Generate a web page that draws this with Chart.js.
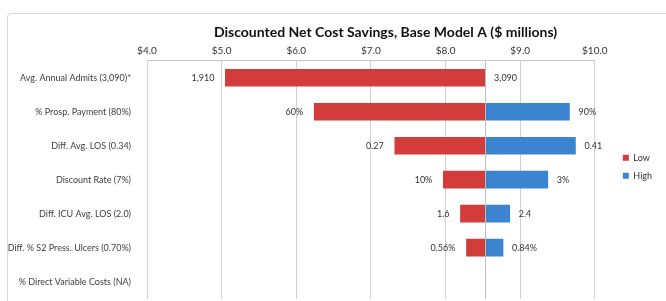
<!DOCTYPE html>
<html>
<head>
<meta charset="utf-8">
<script src="https://cdn.jsdelivr.net/npm/chart.js@4.4.0/dist/chart.umd.min.js"></script>
<style>
	html, body { margin: 0; padding: 0; background: #fff; overflow: hidden; }
	#wrap { position: relative; width: 666px; height: 301px; overflow: hidden; }
	#frame { position: absolute; left: 7px; top: 13px; width: 700px; height: 400px; border: 1px solid #d9d9d9; border-radius: 4px; }
	#chart { position: absolute; left: 0; top: 0; }
</style>
</head>
<body>
<div id="wrap">
	<div id="frame"></div>
	<canvas id="chart" width="666" height="312"></canvas>
</div>
<script>
// 토네이도 차트 데이터
const categories = [
	"Avg. Annual Admits (3,090)*",
	"% Prosp. Payment (80%)",
	"Diff. Avg. LOS (0.34)",
	"Discount Rate (7%)",
	"Diff. ICU Avg. LOS (2.0)",
	"Diff. % S2 Press. Ulcers (0.70%)",
	"% Direct Variable Costs (NA)",
];
const baseValue = 8.53;
const lowValues = [5.05, 6.24, 7.32, 7.97, 8.2, 8.28, null];
const highValues = [8.53, 9.66, 9.74, 9.37, 8.86, 8.77, null];
const lowLabels = ["1,910", "60%", "0.27", "10%", "1.6", "0.56%", ""];
const highLabels = ["3,090", "90%", "0.41", "3%", "2.4", "0.84%", ""];
const xMin = 4;
const xMax = 10;

const FONT = "Lato, 'Open Sans', sans-serif";

// 막대 끝에 값 표시 + 기준선
const labelPlugin = {
	id: "tornadoLabels",
	afterLayout(chart) {
		// 범례는 플롯 오른쪽에서 조금 떨어뜨리고, 제목은 오른쪽으로 이동
		if (chart.legend) {
			chart.legend.left += 19;
			chart.legend.right += 19;
		}
		if (chart.titleBlock) {
			chart.titleBlock.left += 64;
			chart.titleBlock.right += 64;
		}
	},
	afterDatasetsDraw(chart) {
		const ctx = chart.ctx;
		const x = chart.scales.x;
		const y = chart.scales.y;
		ctx.save();
		// 기준선
		const bx = Math.round(x.getPixelForValue(baseValue)) + 0.5;
		ctx.strokeStyle = "#bfbfbf";
		ctx.lineWidth = 1;
		ctx.beginPath();
		ctx.moveTo(bx, chart.chartArea.top);
		ctx.lineTo(bx, chart.chartArea.bottom);
		ctx.stroke();

		ctx.font = "9px " + FONT;
		ctx.fillStyle = "#333";
		ctx.textBaseline = "middle";
		categories.forEach((c, i) => {
			const cy = y.getPixelForValue(i);
			if (lowValues[i] != null && lowLabels[i]) {
				ctx.textAlign = "right";
				ctx.fillText(lowLabels[i], x.getPixelForValue(lowValues[i]) - 11, cy);
			}
			if (highValues[i] != null && highLabels[i]) {
				ctx.textAlign = "left";
				ctx.fillText(highLabels[i], x.getPixelForValue(highValues[i]) + 9, cy);
			}
		});
		ctx.restore();
	},
};

const ctx = document.getElementById("chart").getContext("2d");
new Chart(ctx, {
	type: "bar",
	data: {
		labels: categories,
		datasets: [
			{
				label: "Low",
				data: lowValues.map((v) => (v == null ? null : [v, baseValue])),
				backgroundColor: "#d23c3a",
				borderWidth: 0,
				grouped: false,
				barThickness: 17,
			},
			{
				label: "High",
				data: highValues.map((v) => (v == null ? null : [baseValue, v])),
				backgroundColor: "#3c84d0",
				borderWidth: 0,
				grouped: false,
				barThickness: 17,
			},
		],
	},
	plugins: [labelPlugin],
	options: {
		indexAxis: "y",
		responsive: false,
		animation: false,
		layout: { padding: { left: 0, right: 23, top: 0, bottom: 2 } },
		scales: {
			x: {
				position: "top",
				min: xMin,
				max: xMax,
				ticks: {
					stepSize: 1,
					color: "#333",
					font: { family: FONT, size: 10 },
					padding: 4,
					callback: (v) => "$" + Number(v).toFixed(1),
				},
				grid: { color: "#d0d0d0", drawTicks: false },
				border: { color: "#c8c8c8" },
			},
			y: {
				ticks: {
					color: "#404040",
					font: { family: FONT, size: 9 },
					padding: 8,
				},
				grid: { display: false },
				border: { display: false },
				afterFit: (scale) => {
					scale.width = 147;
				},
			},
		},
		plugins: {
			title: {
				display: true,
				text: "Discounted Net Cost Savings, Base Model A ($ millions)",
				color: "#111",
				font: { family: FONT, size: 14, weight: "bold" },
				padding: { top: 24, bottom: 0 },
			},
			legend: {
				position: "right",
				align: "start",
				title: { display: true, text: " ", font: { size: 1 }, padding: { top: 143, bottom: 0 } },
				labels: {
					boxWidth: 6,
					boxHeight: 6,
					padding: 9,
					color: "#333",
					font: { family: FONT, size: 9 },
				},
			},
			tooltip: { enabled: false },
		},
	},
});
</script>
</body>
</html>
